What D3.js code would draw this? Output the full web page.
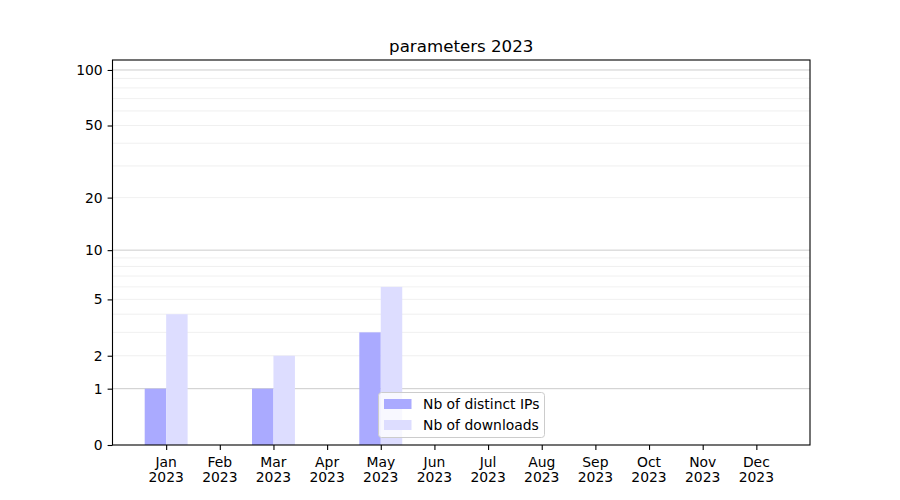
<!DOCTYPE html>
<html>
<head>
<meta charset="utf-8">
<script src="https://cdn.jsdelivr.net/npm/d3@7"></script>
<style>
  body { margin: 0; background: #fff; }
  text { font-family: "DejaVu Sans", sans-serif; }
</style>
</head>
<body>
<script>
'use strict';

// chart data
const months = ["Jan", "Feb", "Mar", "Apr", "May", "Jun", "Jul", "Aug", "Sep", "Oct", "Nov", "Dec"];
const year = "2023";
const distinctIPs = [1, 0, 1, 0, 3, 0, 0, 0, 0, 0, 0, 0];
const downloads = [4, 0, 2, 0, 6, 0, 0, 0, 0, 0, 0, 0];
const yTicks = [0, 1, 2, 5, 10, 20, 50, 100];
const majorGrid = [1, 10, 100];
const minorGrid = [2, 3, 4, 5, 6, 7, 8, 9, 20, 30, 40, 50, 60, 70, 80, 90];
const title = "parameters 2023";
const legendLabels = ["Nb of distinct IPs", "Nb of downloads"];

(function () {
  const width = 900, height = 500;
  const left = 112.5, right = 810, top = 60, bottom = 445;
  const barW = 0.4;
  const colors = ["#aaaaff", "#ddddff"];

  const svg = d3.select('body')
    .append('svg')
    .attr('width', width)
    .attr('height', height);

  // x: month index
  const xScale = d3.scaleLinear()
    .domain([-1, 12])
    .range([left, right]);

  // y: symlog with constant 1, i.e. log(1 + v)
  const yScale = d3.scaleSymlog()
    .constant(1)
    .domain([0, 113.2])
    .range([bottom, top]);

  // gridlines
  svg.append('g')
    .selectAll('line')
    .data(minorGrid)
    .enter()
    .append('line')
    .attr('x1', left).attr('x2', right)
    .attr('y1', (d) => yScale(d)).attr('y2', (d) => yScale(d))
    .attr('stroke', '#ececec')
    .attr('stroke-width', 0.8);

  svg.append('g')
    .selectAll('line')
    .data(majorGrid)
    .enter()
    .append('line')
    .attr('x1', left).attr('x2', right)
    .attr('y1', (d) => yScale(d)).attr('y2', (d) => yScale(d))
    .attr('stroke', '#cccccc')
    .attr('stroke-width', 1);

  // bars
  const series = [distinctIPs, downloads];
  series.forEach((values, s) => {
    svg.append('g')
      .selectAll('rect')
      .data(values)
      .enter()
      .append('rect')
      .attr('x', (d, i) => xScale(i - barW + s * barW))
      .attr('width', xScale(barW) - xScale(0))
      .attr('y', (d) => yScale(d))
      .attr('height', (d) => yScale(0) - yScale(d))
      .attr('fill', colors[s]);
  });

  // y axis
  const yAxis = d3.axisLeft(yScale)
    .tickValues(yTicks)
    .tickFormat(d3.format('d'))
    .tickSize(4.9)
    .tickPadding(4.9);
  const gy = svg.append('g')
    .attr('transform', `translate(${left}, 0)`)
    .call(yAxis);
  gy.select('.domain').remove();
  gy.selectAll('.tick line').attr('stroke', '#000').attr('stroke-width', 1.1);
  gy.selectAll('.tick text')
    .attr('fill', '#000')
    .style('font-size', '13.9px')
    .style('font-family', '"DejaVu Sans", sans-serif');

  // x axis
  const xAxis = d3.axisBottom(xScale)
    .tickValues(d3.range(months.length))
    .tickFormat(() => '')
    .tickSize(4.9);
  const gx = svg.append('g')
    .attr('transform', `translate(0, ${bottom})`)
    .call(xAxis);
  gx.select('.domain').remove();
  gx.selectAll('.tick line').attr('stroke', '#000').attr('stroke-width', 1.1);
  gx.selectAll('.tick text').remove();

  const labels = svg.append('g')
    .selectAll('text')
    .data(months)
    .enter()
    .append('text')
    .attr('x', (d, i) => xScale(i))
    .attr('text-anchor', 'middle')
    .style('font-size', '13.9px');
  labels.append('tspan')
    .attr('x', (d, i) => xScale(i))
    .attr('y', 467)
    .text((d) => d);
  labels.append('tspan')
    .attr('x', (d, i) => xScale(i))
    .attr('y', 482)
    .text(year);

  // axes frame
  svg.append('rect')
    .attr('x', left).attr('y', top)
    .attr('width', right - left).attr('height', bottom - top)
    .attr('fill', 'none')
    .attr('stroke', '#000')
    .attr('stroke-width', 1.1);

  // title
  svg.append('text')
    .attr('x', (left + right) / 2)
    .attr('y', 52)
    .attr('text-anchor', 'middle')
    .style('font-size', '16.67px')
    .text(title);

  // legend
  const legend = svg.append('g');
  legend.append('rect')
    .attr('x', 378.5).attr('y', 392.5)
    .attr('width', 166).attr('height', 45)
    .attr('rx', 3)
    .attr('fill', '#fff')
    .attr('fill-opacity', 0.8)
    .attr('stroke', '#cccccc')
    .attr('stroke-width', 1);

  legendLabels.forEach((label, i) => {
    legend.append('rect')
      .attr('x', 384).attr('y', 399 + i * 21)
      .attr('width', 27.5).attr('height', 10)
      .attr('fill', colors[i]);
    legend.append('text')
      .attr('x', 423).attr('y', 409 + i * 21)
      .style('font-size', '13.9px')
      .text(label);
  });
})();
</script>
</body>
</html>
